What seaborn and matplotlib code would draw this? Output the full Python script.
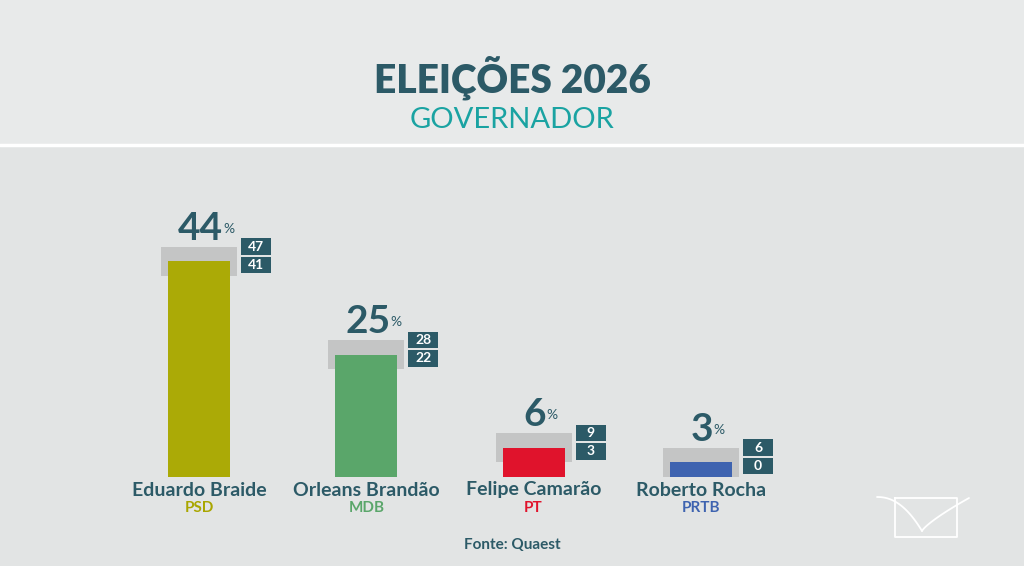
import numpy as np
import matplotlib
matplotlib.use("Agg")
import matplotlib.pyplot as plt
from matplotlib.patches import Rectangle
from matplotlib.lines import Line2D
import seaborn as sns

# ---- data ----
candidates = ["Eduardo Braide", "Orleans Brandão", "Felipe Camarão", "Roberto Rocha"]
parties = ["PSD", "MDB", "PT", "PRTB"]
values = [44, 25, 6, 3]
upper = [47, 28, 9, 6]
lower = [41, 22, 3, 0]
bar_colors = ["#abaa06", "#5aa66a", "#e0132c", "#3e63b0"]
party_colors = ["#a9a600", "#5aa66a", "#e0132c", "#3e63b0"]

DARK = "#2c5a67"
TEAL = "#1aa3a2"
BG = "#e2e4e4"

sns.set_style("white")
plt.rcParams["font.family"] = ["Lato", "DejaVu Sans"]

W, H = 1024, 566
fig = plt.figure(figsize=(W / 100, H / 100), dpi=100)
fig.patch.set_facecolor(BG)

# lighter header band + white divider
fig.patches.append(Rectangle((0, 1 - 145 / H), 1, 145 / H, transform=fig.transFigure,
                             facecolor="#e8eaea", edgecolor="none", zorder=0))
fig.lines.append(Line2D([0, 1], [1 - 145 / H] * 2, transform=fig.transFigure,
                        color="white", lw=2.5))

fig.text(0.5, 1 - 78 / H, "ELEIÇÕES 2026", ha="center", va="center",
         fontsize=28, fontweight="heavy", color=DARK)
fig.text(0.5, 1 - 120 / H, "GOVERNADOR", ha="center", va="center",
         fontsize=21, fontweight="normal", color=TEAL)
fig.text(0.5, 1 - 545 / H, "Fonte: Quaest", ha="center", va="center",
         fontsize=11, fontweight="bold", color=DARK)

# ---- axes placed so bars sit where the reference has them ----
slot = 167.3          # px between bar centres
ymax = 50
plot_h = 245          # px for 0..ymax
ax = fig.add_axes([(199 - slot / 2) / W, (H - 477) / H, 4 * slot / W, plot_h / H])
ax.set_facecolor("none")
px_x = 1 / slot
px_y = ymax / plot_h

# margin of error band (behind the bars)
xs = np.arange(len(candidates))
band_w = 0.455
ax.bar(xs, np.array(upper) - np.array(lower), bottom=lower, width=band_w,
       color="#c4c5c5", zorder=1, linewidth=0)

sns.barplot(x=candidates, y=values, hue=candidates, palette=bar_colors,
            width=0.37, saturation=1, legend=False, ax=ax, zorder=2, linewidth=0)
ax.set_xlim(-0.5, 3.5)
ax.set_ylim(0, ymax)
ax.axis("off")

# small boxes with upper / lower limits
bw, bh = 30 * px_x, 16.5 * px_y
for i, (hi, lo) in enumerate(zip(upper, lower)):
    x0 = i + band_w / 2 + 4 * px_x
    for k, txt in enumerate([hi, lo]):
        yc = hi - k * 18.5 * px_y
        ax.add_patch(Rectangle((x0, yc - bh / 2), bw, bh, facecolor=DARK,
                               edgecolor="none", zorder=4, clip_on=False))
        ax.text(x0 + bw / 2, yc, str(txt), ha="center", va="center",
                fontsize=10, fontweight="bold", color="white", zorder=5, clip_on=False)

# big value labels "44%"
fig.canvas.draw()
rend = fig.canvas.get_renderer()
for i, (v, hi) in enumerate(zip(values, upper)):
    tn = ax.annotate(str(v), xy=(i, hi), xytext=(0, 7), textcoords="offset pixels",
                     ha="left", va="baseline", fontsize=28, fontweight="bold",
                     color=DARK, annotation_clip=False)
    tp = ax.annotate("%", xy=(i, hi), xytext=(0, 14), textcoords="offset pixels",
                     ha="left", va="baseline", fontsize=10, color=DARK,
                     annotation_clip=False)
    wn = tn.get_window_extent(rend).width
    wp = tp.get_window_extent(rend).width
    start = 7 - (wn + wp) / 2
    tn.xyann = (start, 7)
    tp.xyann = (start + wn, 14)

# candidate names and parties
for i, (name, party, pc) in enumerate(zip(candidates, parties, party_colors)):
    ax.annotate(name, xy=(i, 0), xytext=(0, -13), textcoords="offset pixels",
                ha="center", va="center", fontsize=14, fontweight="bold",
                color=DARK, annotation_clip=False)
    ax.annotate(party, xy=(i, 0), xytext=(0, -31), textcoords="offset pixels",
                ha="center", va="center", fontsize=11, fontweight="bold",
                color=pc, annotation_clip=False)

# channel logo (outline with bird)
def px(xp, yp):
    return np.asarray(xp) / W, 1 - np.asarray(yp) / H

rx, ry = px([895, 957, 957, 895, 895], [498, 498, 537, 537, 498])
fig.lines.append(Line2D(rx, ry, transform=fig.transFigure, color="white", lw=1.3))
t = np.linspace(0, 1, 60)
# left wing: starts flat outside the frame, dives down to the body
wx = 877 + 45 * t
wy = 497 + 34 * t ** 2.2
fig.lines.append(Line2D(*px(wx, wy), transform=fig.transFigure, color="white", lw=1.3))
# body and right wing rising out of the frame
bx = 922 + 47 * t
by = 531 - 33 * t ** 0.8
fig.lines.append(Line2D(*px(bx, by), transform=fig.transFigure, color="white", lw=1.3))

fig.savefig("out.png", dpi=100, facecolor=fig.get_facecolor())
